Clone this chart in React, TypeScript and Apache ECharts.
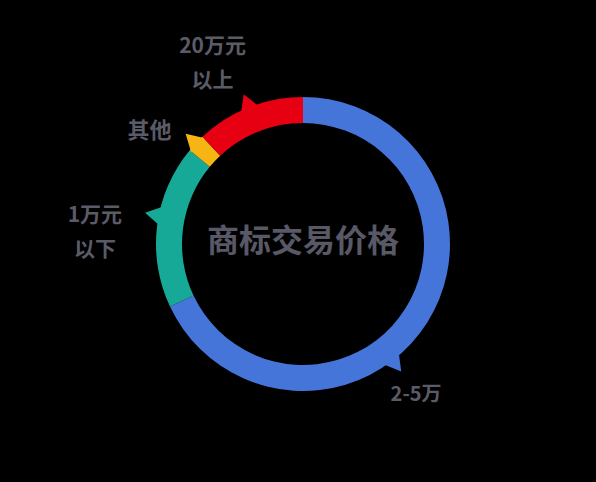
import React from "react";
import * as echarts from "echarts";

// ---------- data ----------
const categories = ["2-5万", "1万元\n以下", "其他", "20万元\n以上"];
const shares = [68, 18, 2, 12];
const colors = ["#4675da", "#17a998", "#f7b514", "#e60012"];
const centerTitle = "商标交易价格";

// ---------- layout / style ----------
const CX = 303;
const CY = 244;
const R_IN = 121;
const R_OUT = 147;
const pointerShift = [-20, -4, 0, 0]; // deg, tweak of the pointer vs slice middle
const labelDist = 205;
const labelNudge = [[-12, -14], [-7, 26], [-4, 24], [-15, 8]];
const labelSize = [20, 21, 22, 21];
const TEXT = "#5b5b68";
const FONT = "'Noto Sans CJK SC', 'Noto Sans', sans-serif";

function pointerAngles(): number[] {
  const total = shares.reduce((a, b) => a + b, 0);
  let cum = 0;
  return shares.map((v, i) => {
    const span = (v / total) * 360;
    const mid = 90 - cum - span / 2;
    cum += span;
    return mid + pointerShift[i];
  });
}

function polar(r: number, deg: number): [number, number] {
  const a = (deg * Math.PI) / 180;
  return [CX + r * Math.cos(a), CY - r * Math.sin(a)];
}

export default function App() {
  const ref = React.useRef<HTMLDivElement>(null);

  React.useEffect(() => {
    document.body.style.margin = "0";
    document.body.style.background = "#000";
    const el = ref.current;
    if (!el) return;
    const chart = echarts.init(el, undefined, { renderer: "svg" });
    const angles = pointerAngles();

    const pointers = angles.map((deg, i) => ({
      type: "polygon",
      z: 5,
      shape: {
        points: [polar(R_OUT - 3, deg - 4), polar(R_OUT + 14, deg), polar(R_OUT - 3, deg + 4)],
      },
      style: { fill: colors[i] },
    }));

    chart.setOption({
      animation: false,
      backgroundColor: "#000",
      graphic: [
        ...pointers,
        {
          type: "text",
          x: CX,
          y: 238,
          style: {
            text: centerTitle,
            fill: "#585866",
            font: `bold 32px ${FONT}`,
            textAlign: "center",
            textVerticalAlign: "middle",
          },
        },
      ],
      series: [
        {
          type: "pie",
          center: [CX, CY],
          radius: [R_IN, R_OUT],
          startAngle: 90,
          clockwise: true,
          silent: true,
          z: 10,
          label: {
            show: true,
            position: "outside",
            formatter: "{b}",
            color: TEXT,
            fontWeight: "bold",
            fontFamily: FONT,
            lineHeight: 34,
          },
          labelLine: { show: false },
          labelLayout: (p: any) => {
            const i = p.dataIndex;
            const [x, y] = polar(labelDist, angles[i]);
            return {
              x: x + labelNudge[i][0],
              y: y + labelNudge[i][1],
              align: "center",
              verticalAlign: "middle",
              fontSize: labelSize[i],
            };
          },
          data: categories.map((name, i) => ({
            name,
            value: shares[i],
            itemStyle: { color: colors[i] },
          })),
        },
      ],
    });
    return () => chart.dispose();
  }, []);

  return <div ref={ref} style={{ width: 596, height: 482, background: "#000" }} />;
}
